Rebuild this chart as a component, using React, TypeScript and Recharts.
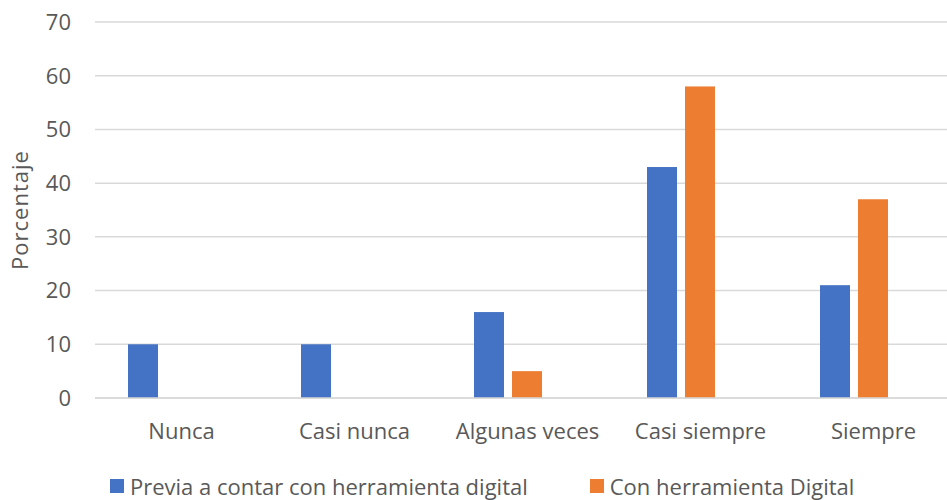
import React from 'react';
import { BarChart, Bar, XAxis, YAxis, CartesianGrid, Legend } from 'recharts';

const categories = ['Nunca', 'Casi nunca', 'Algunas veces', 'Casi siempre', 'Siempre'];
const previa = [10, 10, 16, 43, 21];
const conHerramienta = [0, 0, 5, 58, 37];
const yTicks = [0, 10, 20, 30, 40, 50, 60, 70];
const seriesNames = ['Previa a contar con herramienta digital', 'Con herramienta Digital'];

const data = categories.map((name, i) => ({
    name,
    previa: previa[i],
    con: conHerramienta[i],
}));

const FONT = '"Open Sans", sans-serif';
const TEXT = '#595959';
const BLUE = '#4472C4';
const ORANGE = '#ED7D31';

// the original draws each cluster a little left of its category label
const ShiftedBar: React.FC<any> = (props) => {
    const { x, y, width, height, fill } = props;
    if (!height || height <= 0) { return null; }
    return <rect x={x - 20} y={y} width={width} height={height} fill={fill} />;
};

const LegendContent: React.FC<any> = () => {
    const items = [
        { label: seriesNames[0], color: BLUE, gap: 0 },
        { label: seriesNames[1], color: ORANGE, gap: 62 },
    ];
    return (
        <div style={{ display: 'flex', height: 26, alignItems: 'center', fontFamily: FONT, fontSize: 22, color: TEXT, whiteSpace: 'nowrap' }}>
            {items.map((it) => (
                <div key={it.label} style={{ display: 'flex', alignItems: 'center', marginLeft: it.gap }}>
                    <span style={{ width: 14, height: 14, background: it.color, marginRight: 6, display: 'inline-block' }} />
                    <span style={{ lineHeight: '26px' }}>{it.label}</span>
                </div>
            ))}
        </div>
    );
};

const App: React.FC = () => {
    return (
        <div style={{ position: 'fixed', left: 0, top: 0, width: 947, height: 500, overflow: 'hidden', background: '#fff' }}>
            <BarChart
                width={970}
                height={500}
                data={data}
                margin={{ top: 22, right: 10, left: 0, bottom: 0 }}
                barSize={30}
                barGap={8}
            >
                <CartesianGrid vertical={false} stroke="#D9D9D9" strokeWidth={1.5} />
                <XAxis
                    dataKey="name"
                    axisLine={{ stroke: '#D9D9D9', strokeWidth: 1.5 }}
                    tickLine={false}
                    tickSize={0}
                    tickMargin={25}
                    height={76}
                    interval={0}
                    tick={{ fill: TEXT, fontSize: 22, fontFamily: FONT }}
                />
                <YAxis
                    domain={[0, 70]}
                    ticks={yTicks}
                    axisLine={false}
                    tickLine={false}
                    tickSize={0}
                    tickMargin={24}
                    width={95}
                    tick={{ fill: TEXT, fontSize: 22, fontFamily: FONT }}
                    label={{
                        value: 'Porcentaje',
                        angle: -90,
                        position: 'insideLeft',
                        offset: 20,
                        style: { textAnchor: 'middle', fill: TEXT, fontSize: 22, fontFamily: FONT, letterSpacing: 1 },
                    }}
                />
                <Legend
                    content={<LegendContent />}
                    wrapperStyle={{ position: 'absolute', left: 110, top: 473, width: 'auto' }}
                />
                <Bar dataKey="previa" name={seriesNames[0]} fill={BLUE} shape={<ShiftedBar />} isAnimationActive={false} />
                <Bar dataKey="con" name={seriesNames[1]} fill={ORANGE} shape={<ShiftedBar />} isAnimationActive={false} />
            </BarChart>
        </div>
    );
};

export default App;
